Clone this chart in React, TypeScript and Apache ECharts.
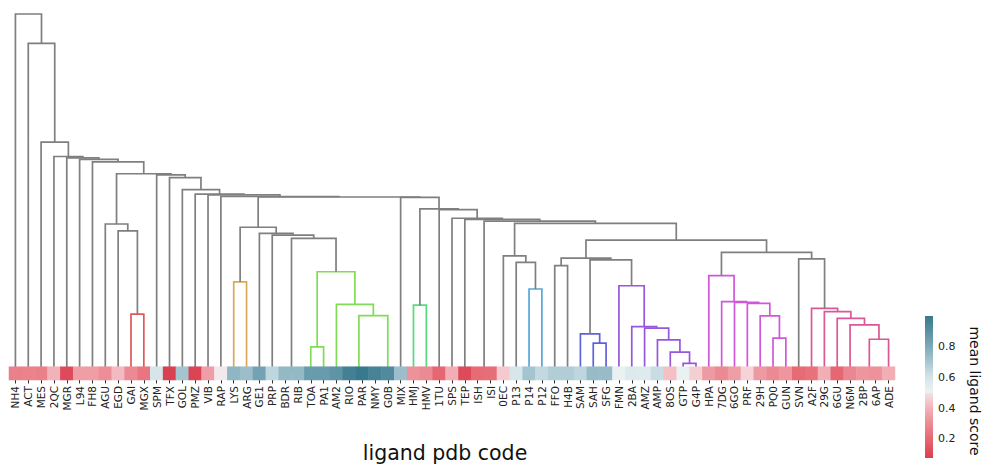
import React, { useEffect, useRef } from 'react';
import * as echarts from 'echarts';

// ---------- data ----------
const leafLabels = [
  'NH4', 'ACT', 'MES', '2QC', 'MGR', 'L94', 'FH8', 'AGU', 'EGD', 'GAI', 'MGX', 'SPM', 'TFX', 'GOL', 'PMZ', 'VIB', 'RAP',
  'LYS', 'ARG', 'GE1', 'PRP', 'BDR', 'RIB', 'TOA', 'PA1', 'AM2', 'RIO', 'PAR', 'NMY', 'G0B', 'MIX', 'HMJ', 'HMV', '1TU',
  'SPS', 'TEP', 'ISH', 'ISI', '0EC', 'P13', 'P14', 'P12', 'FFO', 'H4B', 'SAM', 'SAH', 'SFG', 'FMN', '2BA', 'AMZ', 'AMP',
  '8OS', 'GTP', 'G4P', 'HPA', '7DG', '6GO', 'PRF', '29H', 'PQ0', 'GUN', 'SVN', 'A2F', '29G', '6GU', 'N6M', '2BP', '6AP', 'ADE',
];

const leafScores = [
  0.27, 0.28, 0.27, 0.40, 0.11, 0.35, 0.35, 0.31, 0.42, 0.30, 0.24, 0.60, 0.075, 0.71, 0.09, 0.35, 0.50,
  0.76, 0.73, 0.83, 0.65, 0.75, 0.75, 0.86, 0.86, 0.89, 0.97, 1.0, 0.96, 0.93, 0.73, 0.32, 0.30, 0.20,
  0.39, 0.11, 0.21, 0.22, 0.45, 0.59, 0.71, 0.64, 0.68, 0.68, 0.65, 0.74, 0.74, 0.51, 0.57, 0.56, 0.63,
  0.43, 0.51, 0.46, 0.34, 0.30, 0.35, 0.47, 0.34, 0.30, 0.33, 0.21, 0.23, 0.39, 0.20, 0.29, 0.33, 0.32, 0.39,
];

// linkage rows [left, right, height]; ids >= 69 refer to row (id - 69)
const linkage: [number, number, number][] = [
  [31, 32, 1.89],   // 69 HMJ/HMV
  [36, 37, 0.05],   // 70 ISH/ISI
  [40, 41, 2.34],   // 71 P14/P12
  [39, 71, 3.08],   // 72
  [38, 72, 3.26],   // 73
  [42, 43, 2.99],   // 74 FFO/H4B
  [45, 46, 0.83],   // 75 SAH/SFG
  [44, 75, 1.09],   // 76
  [52, 53, 0.27],   // 77 GTP/G4P
  [51, 77, 0.58],   // 78
  [50, 78, 0.92],   // 79
  [49, 79, 1.25],   // 80
  [48, 80, 1.29],   // 81
  [47, 81, 2.43],   // 82
  [76, 82, 3.15],   // 83
  [74, 83, 3.20],   // 84
  [59, 60, 0.97],   // 85 PQ0/GUN
  [58, 85, 1.59],   // 86
  [57, 86, 1.94],   // 87
  [56, 87, 1.97],   // 88
  [55, 88, 1.99],   // 89
  [54, 89, 2.71],   // 90
  [66, 67, 0.05],   // 91 2BP/6AP
  [91, 68, 0.94],   // 92
  [65, 92, 1.34],   // 93
  [64, 93, 1.52],   // 94
  [63, 94, 1.71],   // 95
  [62, 95, 1.80],   // 96
  [61, 96, 3.18],   // 97
  [90, 97, 3.36],   // 98
  [84, 98, 3.70],   // 99
  [73, 99, 4.17],   // 100
  [70, 100, 4.23],  // 101
  [35, 101, 4.28],  // 102
  [34, 102, 4.31],  // 103
  [33, 103, 4.55],  // 104
  [69, 104, 4.57],  // 105
  [30, 105, 4.894], // 106
  [17, 18, 2.54],   // 107 LYS/ARG
  [21, 22, 0.05],   // 108 BDR/RIB
  [23, 24, 0.73],   // 109 TOA/PA1
  [27, 28, 0.04],   // 110 PAR/NMY
  [26, 110, 0.07],  // 111
  [111, 29, 1.60],  // 112
  [25, 112, 1.91],  // 113
  [109, 113, 2.82], // 114
  [108, 114, 3.75], // 115
  [20, 115, 3.84],  // 116
  [19, 116, 3.89],  // 117
  [107, 117, 4.06], // 118
  [118, 106, 4.903],// 119
  [16, 119, 4.916], // 120
  [15, 120, 4.96],  // 121
  [14, 121, 4.98],  // 122
  [13, 122, 5.11],  // 123
  [12, 123, 5.44],  // 124
  [11, 124, 5.52],  // 125
  [9, 10, 1.64],    // 126 GAI/MGX
  [8, 126, 3.96],   // 127
  [7, 127, 4.15],   // 128
  [128, 125, 5.55], // 129
  [6, 129, 5.88],   // 130
  [5, 130, 5.95],   // 131
  [4, 131, 5.99],   // 132
  [3, 132, 6.03],   // 133
  [2, 133, 6.43],   // 134
  [1, 134, 9.18],   // 135
  [0, 135, 10.0],   // 136 root
];

const linkClusters = [
  'c4', 'g', 'c5', 'g', 'g', 'g', 'c6', 'c6', 'c7', 'c7', 'c7', 'c7', 'c7', 'c7', 'g', 'g',
  'c8', 'c8', 'c8', 'c8', 'c8', 'c8', 'c9', 'c9', 'c9', 'c9', 'c9', 'c9', 'g', 'g', 'g', 'g',
  'g', 'g', 'g', 'g', 'g', 'g', 'c2', 'g', 'c3', 'c3', 'c3', 'c3', 'c3', 'c3', 'g', 'g', 'g', 'g',
  'g', 'g', 'g', 'g', 'g', 'g', 'g', 'c1', 'g', 'g', 'g', 'g', 'g', 'g', 'g', 'g', 'g', 'g',
];

const xAxisTitle = 'ligand pdb code';
const colorbarTitle = 'mean ligand score';
const colorbarTicks = [0.2, 0.4, 0.6, 0.8];

// ---------- styles ----------
const clusterColors: Record<string, string> = {
  g: '#7f7f7f',
  c1: '#dc5a5a',
  c2: '#dba857',
  c3: '#80dc57',
  c4: '#57db80',
  c5: '#57a7db',
  c6: '#5f62db',
  c7: '#9657db',
  c8: '#d057db',
  c9: '#db5796',
};

const scoreStops: [number, number[]][] = [
  [0.0, [207, 45, 63]],
  [0.1, [221, 71, 86]],
  [0.2, [229, 103, 114]],
  [0.3, [236, 138, 147]],
  [0.4, [242, 178, 185]],
  [0.499, [247, 224, 227]],
  [0.501, [235, 242, 244]],
  [0.6, [213, 229, 234]],
  [0.7, [168, 199, 209]],
  [0.8, [125, 170, 185]],
  [0.9, [90, 145, 163]],
  [1.0, [57, 121, 141]],
];

function rgb(c: number[]) {
  return `rgb(${Math.round(c[0])},${Math.round(c[1])},${Math.round(c[2])})`;
}
function colorAt(v: number): string {
  if (v <= scoreStops[0][0]) return rgb(scoreStops[0][1]);
  for (let i = 1; i < scoreStops.length; i++) {
    const [v1, c1] = scoreStops[i];
    const [v0, c0] = scoreStops[i - 1];
    if (v <= v1) {
      const t = (v - v0) / (v1 - v0);
      return rgb(c0.map((c, k) => c + (c1[k] - c) * t));
    }
  }
  return rgb(scoreStops[scoreStops.length - 1][1]);
}

function buildLinks() {
  const xs: number[] = leafLabels.map((_, i) => i);
  const hs: number[] = leafLabels.map(() => 0);
  const links: number[][] = [];
  linkage.forEach(([a, b, h], k) => {
    links.push([xs[a], hs[a], xs[b], hs[b], h, k]);
    xs.push((xs[a] + xs[b]) / 2);
    hs.push(h);
  });
  return links;
}

const FONT = 'DejaVu Sans';

export default function App() {
  const ref = useRef<HTMLDivElement>(null);
  useEffect(() => {
    if (!ref.current) return;
    const chart = echarts.init(ref.current, undefined, { renderer: 'svg' });
    const links = buildLinks();
    const n = leafLabels.length;
    const vmin = Math.min(...leafScores);
    const vmax = Math.max(...leafScores);
    const sampled: string[] = [];
    for (let i = 0; i <= 200; i++) sampled.push(colorAt(i / 200));

    const gradStops: { offset: number; color: string }[] = [];
    gradStops.push({ offset: 0, color: colorAt(vmax) });
    for (let i = scoreStops.length - 1; i >= 0; i--) {
      const v = scoreStops[i][0];
      if (v < vmax && v > vmin) {
        gradStops.push({ offset: (vmax - v) / (vmax - vmin), color: rgb(scoreStops[i][1]) });
      }
    }
    gradStops.push({ offset: 1, color: colorAt(vmin) });

    const option: any = {
      animation: false,
      backgroundColor: '#ffffff',
      grid: [
        { left: 9, width: 886, top: 14, height: 359 },
        { left: 9, width: 886, top: 366.7, height: 13.3 },
        { left: 925, width: 8, top: 316, height: 142 },
      ],
      xAxis: [
        { gridIndex: 0, type: 'value', min: -0.5, max: n - 0.5, show: false },
        {
          gridIndex: 1,
          type: 'category',
          data: leafLabels,
          axisLine: { show: false },
          axisTick: { show: true, alignWithLabel: true, length: 3.5, lineStyle: { color: '#333', width: 1 } },
          axisLabel: { interval: 0, rotate: 90, fontSize: 10.5, margin: 6, color: '#222', fontFamily: FONT },
          splitLine: { show: false },
        },
        { gridIndex: 2, type: 'value', min: 0, max: 1, show: false },
      ],
      yAxis: [
        { gridIndex: 0, type: 'value', min: 0, max: 10, show: false },
        { gridIndex: 1, type: 'category', data: ['score'], show: false },
        {
          gridIndex: 2,
          type: 'value',
          min: vmin,
          max: vmax,
          position: 'right',
          axisLine: { show: false },
          splitLine: { show: false },
          axisTick: { show: true, length: 3.5, customValues: colorbarTicks, lineStyle: { color: '#333' } },
          axisLabel: {
            customValues: colorbarTicks,
            fontSize: 11,
            margin: 5,
            color: '#222',
            fontFamily: FONT,
            formatter: (v: number) => v.toFixed(1),
          },
        },
      ],
      visualMap: {
        show: false,
        type: 'continuous',
        seriesIndex: 1,
        dimension: 2,
        min: 0,
        max: 1,
        inRange: { color: sampled },
      },
      series: [
        {
          type: 'custom',
          xAxisIndex: 0,
          yAxisIndex: 0,
          z: 2,
          data: links,
          encode: { x: [0, 2], y: [1, 3, 4] },
          renderItem: (params: any, api: any) => {
            const a = api.coord([api.value(0), api.value(1)]);
            const b = api.coord([api.value(0), api.value(4)]);
            const c = api.coord([api.value(2), api.value(4)]);
            const d = api.coord([api.value(2), api.value(3)]);
            return {
              type: 'polyline',
              shape: { points: [a, b, c, d] },
              style: { stroke: clusterColors[linkClusters[params.dataIndex]], lineWidth: 1.7, fill: 'none' },
            };
          },
        },
        {
          type: 'heatmap',
          xAxisIndex: 1,
          yAxisIndex: 1,
          z: 5,
          data: leafScores.map((v, i) => [i, 0, v]),
          itemStyle: { borderWidth: 0 },
        },
        {
          type: 'custom',
          xAxisIndex: 2,
          yAxisIndex: 2,
          data: [[0, vmin, 1, vmax]],
          encode: { x: [0, 2], y: [1, 3] },
          renderItem: (_p: any, api: any) => {
            const p1 = api.coord([0, vmax]);
            const p2 = api.coord([1, vmin]);
            return {
              type: 'rect',
              shape: { x: p1[0], y: p1[1], width: p2[0] - p1[0], height: p2[1] - p1[1] },
              style: {
                fill: { type: 'linear', x: 0, y: 0, x2: 0, y2: 1, colorStops: gradStops },
              },
            };
          },
        },
      ],
      graphic: [
        {
          type: 'text',
          x: 445,
          y: 453,
          style: { text: xAxisTitle, fontSize: 20.5, fill: '#111', align: 'center', verticalAlign: 'middle', fontFamily: FONT },
        },
        {
          type: 'text',
          x: 975,
          y: 391,
          rotation: -Math.PI / 2,
          style: { text: colorbarTitle, fontSize: 14, fill: '#111', align: 'center', verticalAlign: 'middle', fontFamily: FONT },
        },
      ],
    };
    chart.setOption(option);
    return () => chart.dispose();
  }, []);
  return <div ref={ref} style={{ position: 'fixed', left: 0, top: 0, width: 984, height: 468 }} />;
}
